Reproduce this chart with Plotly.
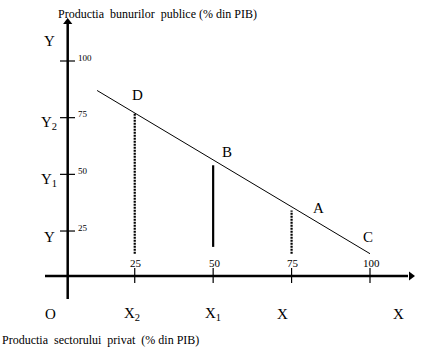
import plotly.graph_objects as go

# ---- data ----
x_tick_vals = [25, 50, 75, 100]
x_tick_text = ["25", "50", "75", "100"]
y_tick_vals = [25, 50, 75, 100]
y_tick_text = ["25", "50", "75", "100"]
frontier_x = [13, 100]
frontier_y = [87, 15]
drop_x = [25, 50, 75]
drop_top = [77, 54, 34]
drop_bottom = [15, 18, 15]
drop_dash = ["2px,1px", "solid", "2px,1px"]
point_labels = ["D", "B", "A", "C"]
point_x = [26, 54.5, 83.5, 99.5]
point_y = [85, 60, 35, 22.5]
y_letters = ["Y", "Y<sub>2</sub>", "Y<sub>1</sub>", "Y"]
y_letter_vals = [109, 72.5, 47.5, 22.5]
x_letters = ["O", "X<sub>2</sub>", "X<sub>1</sub>", "X", "X"]
x_letter_vals = [-2, 24, 50, 72, 109]
y_title = "Productia  bunurilor  publice (% din PIB)"
x_title = "Productia  sectorului  privat  (% din PIB)"

W, H = 427, 347
SX, X0 = 3.137, 56.3   # px per unit, px of x=0
SY, Y0 = 2.267, 287.7  # px per unit, px of y=0
def dx(px): return (px - X0) / SX
def dy(py): return (Y0 - py) / SY

axis_x = dx(67.7)
axis_y = dy(276)

fig = go.Figure()
FONT = "Liberation Serif"

# axes
fig.add_trace(go.Scatter(x=[axis_x, axis_x], y=[dy(299), dy(24)], mode="lines",
                         line=dict(color="black", width=2.5), hoverinfo="skip"))
fig.add_trace(go.Scatter(x=[dx(45), dx(408)], y=[axis_y, axis_y], mode="lines",
                         line=dict(color="black", width=2.5), hoverinfo="skip"))
fig.add_trace(go.Scatter(x=[axis_x], y=[dy(22)], mode="markers",
                         marker=dict(symbol="triangle-up", size=8, color="black"), hoverinfo="skip"))
fig.add_trace(go.Scatter(x=[dx(411)], y=[axis_y], mode="markers",
                         marker=dict(symbol="triangle-right", size=8, color="black"), hoverinfo="skip"))

# ticks
for v in y_tick_vals:
    fig.add_trace(go.Scatter(x=[dx(60), dx(75)], y=[v, v], mode="lines",
                             line=dict(color="black", width=1.2), hoverinfo="skip"))
for v in x_tick_vals:
    fig.add_trace(go.Scatter(x=[v, v], y=[dy(268), dy(283)], mode="lines",
                             line=dict(color="black", width=1.2), hoverinfo="skip"))

# frontier
fig.add_trace(go.Scatter(x=frontier_x, y=frontier_y, mode="lines",
                         line=dict(color="black", width=1), hoverinfo="skip"))

# drop lines
for x, t, b, d in zip(drop_x, drop_top, drop_bottom, drop_dash):
    fig.add_trace(go.Scatter(x=[x, x], y=[b, t], mode="lines",
                             line=dict(color="black", width=2.2, dash=d), hoverinfo="skip"))

ann = []
def txt(x, y, s, size, xanchor="center", yanchor="middle"):
    ann.append(dict(x=x, y=y, xref="x", yref="y", text=s, showarrow=False,
                    font=dict(family=FONT, size=size, color="black"),
                    xanchor=xanchor, yanchor=yanchor))

for v, s in zip(y_tick_vals, y_tick_text):
    txt(dx(76), v + 1.5, s, 9, xanchor="left")
for v, s in zip(x_tick_vals, x_tick_text):
    txt(v + 0.5, dy(263), s, 11)
for s, x, y in zip(point_labels, point_x, point_y):
    txt(x, y, s, 15)
for s, v in zip(y_letters, y_letter_vals):
    txt(dx(49), v, s, 15)
for s, v in zip(x_letters, x_letter_vals):
    txt(v, dy(314), s, 15)
txt(dx(157), dy(14), y_title, 12)
txt(dx(0), dy(340), x_title, 12, xanchor="left")

fig.update_layout(
    width=W, height=H, margin=dict(l=0, r=0, t=0, b=0),
    paper_bgcolor="white", plot_bgcolor="white", showlegend=False,
    xaxis=dict(range=[dx(0), dx(W)], visible=False, fixedrange=True),
    yaxis=dict(range=[dy(H), dy(0)], visible=False, fixedrange=True),
    annotations=ann,
)
fig.write_html("out.html")
